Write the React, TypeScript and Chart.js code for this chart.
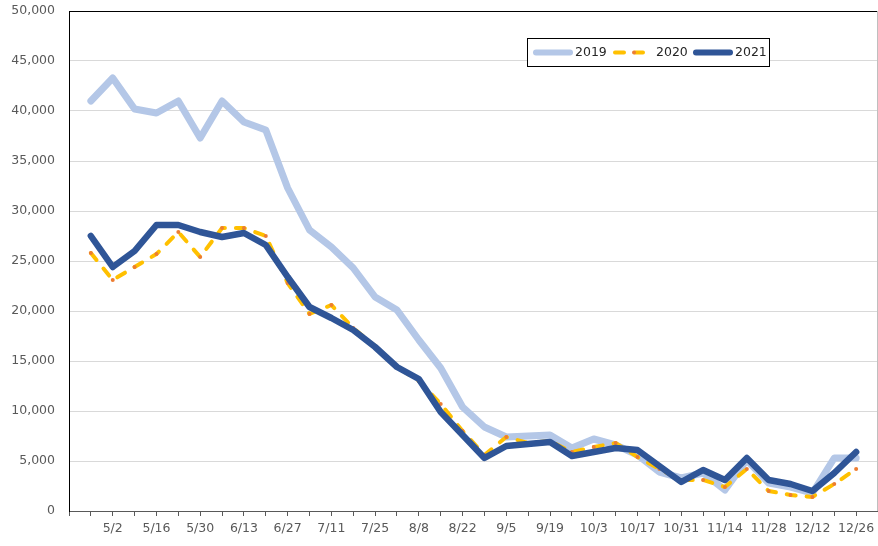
import React, { useEffect, useRef } from "react";
import { Chart, registerables } from "chart.js";

Chart.register(...registerables);

const weeks: string[] = [
  "4/25", "5/2", "5/9", "5/16", "5/23", "5/30", "6/6", "6/13", "6/20", "6/27",
  "7/4", "7/11", "7/18", "7/25", "8/1", "8/8", "8/15", "8/22", "8/29", "9/5",
  "9/12", "9/19", "9/26", "10/3", "10/10", "10/17", "10/24", "10/31", "11/7", "11/14",
  "11/21", "11/28", "12/5", "12/12", "12/19", "12/26",
];

const series2019: number[] = [
  41000, 43300, 40200, 39800, 41000, 37300, 41000, 38900, 38100, 32300,
  28100, 26400, 24300, 21400, 20100, 17100, 14300, 10400, 8400, 7400,
  7500, 7600, 6300, 7200, 6600, 5600, 3900, 3300, 3800, 2100,
  5100, 2800, 2400, 1800, 5300, 5300,
];

const series2020: number[] = [
  25800, 23100, 24400, 25700, 27900, 25400, 28300, 28300, 27500, 22800,
  19700, 20600, 18300, 16500, 14400, 13000, 10700, 8000, 5600, 7400,
  6800, 7000, 5900, 6400, 6800, 5400, 4200, 3100, 3100, 2400,
  4200, 2000, 1600, 1400, 2700, 4200,
];

const series2021: number[] = [
  27500, 24400, 26000, 28600, 28600, 27900, 27400, 27800, 26600, 23400,
  20400, 19300, 18100, 16400, 14400, 13200, 9900, 7600, 5300, 6500,
  6700, 6900, 5500, 5900, 6300, 6100, 4500, 2900, 4100, 3100,
  5300, 3100, 2700, 2000, 3800, 5900,
];

const seriesNames: string[] = ["2019", "2020", "2021"];
const yTicks: number[] = [0, 5000, 10000, 15000, 20000, 25000, 30000, 35000, 40000, 45000, 50000];

const FONT = "'DejaVu Sans', sans-serif";
const C2019 = "#b4c7e7";
const C2020 = "#ffc000";
const C2020dot = "#ed7d31";
const C2021 = "#2f5597";

const pad = (arr: number[]) => [null, ...arr, null];

const framePlugin = {
  id: "frameAndLegend",
  afterDraw(chart: any) {
    const { ctx, chartArea } = chart;
    ctx.save();
    // right border
    ctx.strokeStyle = "#bfbfbf";
    ctx.lineWidth = 1;
    ctx.beginPath();
    ctx.moveTo(chartArea.right - 0.5, chartArea.top);
    ctx.lineTo(chartArea.right - 0.5, chartArea.bottom);
    ctx.stroke();

    // legend box
    const bx = 527, by = 38, bw = 242, bh = 28;
    ctx.fillStyle = "#ffffff";
    ctx.fillRect(bx, by, bw, bh);
    ctx.strokeStyle = "#000000";
    ctx.lineWidth = 1;
    ctx.strokeRect(bx + 0.5, by + 0.5, bw, bh);
    const cy = by + bh / 2 + 0.5;
    ctx.lineCap = "round";
    // 2019
    ctx.strokeStyle = C2019;
    ctx.lineWidth = 6;
    ctx.beginPath();
    ctx.moveTo(536, cy);
    ctx.lineTo(570, cy);
    ctx.stroke();
    // 2020
    ctx.strokeStyle = C2020;
    ctx.lineWidth = 4;
    ctx.setLineDash([9, 11]);
    ctx.beginPath();
    ctx.moveTo(615, cy);
    ctx.lineTo(643, cy);
    ctx.stroke();
    ctx.setLineDash([]);
    ctx.fillStyle = C2020dot;
    ctx.beginPath();
    ctx.arc(634, cy, 2, 0, Math.PI * 2);
    ctx.fill();
    // 2021
    ctx.strokeStyle = C2021;
    ctx.lineWidth = 6;
    ctx.beginPath();
    ctx.moveTo(696, cy);
    ctx.lineTo(730, cy);
    ctx.stroke();

    ctx.fillStyle = "#262626";
    ctx.font = `12.5px ${FONT}`;
    ctx.textBaseline = "middle";
    ctx.textAlign = "left";
    ctx.fillText(seriesNames[0], 575, cy);
    ctx.fillText(seriesNames[1], 656, cy);
    ctx.fillText(seriesNames[2], 735, cy);
    ctx.restore();
  },
};

export default function App() {
  const ref = useRef<HTMLCanvasElement | null>(null);

  useEffect(() => {
    if (!ref.current) return;
    const labels = ["", ...weeks, ""];
    const chart = new Chart(ref.current, {
      type: "line",
      data: {
        labels,
        datasets: [
          {
            label: seriesNames[0],
            data: pad(series2019) as any,
            borderColor: C2019,
            backgroundColor: C2019,
            borderWidth: 7,
            pointRadius: 0,
            borderJoinStyle: "round",
            borderCapStyle: "round",
            order: 3,
          },
          {
            label: seriesNames[1],
            data: pad(series2020) as any,
            borderColor: C2020,
            backgroundColor: C2020dot,
            borderWidth: 4,
            borderDash: [9, 11],
            borderCapStyle: "round",
            borderJoinStyle: "round",
            pointRadius: 2,
            pointBorderWidth: 0,
            pointBackgroundColor: C2020dot,
            order: 2,
          },
          {
            label: seriesNames[2],
            data: pad(series2021) as any,
            borderColor: C2021,
            backgroundColor: C2021,
            borderWidth: 6.5,
            pointRadius: 0,
            borderJoinStyle: "round",
            borderCapStyle: "round",
            order: 1,
          },
        ],
      },
      options: {
        responsive: false,
        animation: false,
        devicePixelRatio: 1,
        layout: { padding: { top: 11, right: 0, left: 0, bottom: 0 } },
        plugins: {
          legend: { display: false },
          tooltip: { enabled: false },
        },
        scales: {
          x: {
            type: "category",
            offset: false,
            border: { display: true, color: "#595959", width: 1 },
            grid: {
              display: true,
              drawOnChartArea: false,
              drawTicks: true,
              tickLength: 5,
              color: "#595959",
            },
            ticks: {
              autoSkip: false,
              maxRotation: 0,
              minRotation: 0,
              padding: 5,
              color: "#595959",
              font: { family: FONT, size: 12.5 },
              callback: (_v: any, i: number) => {
                const w = i - 1;
                if (w >= 0 && w < weeks.length && w % 2 === 1) return weeks[w];
                return "";
              },
            },
            afterFit: (s: any) => {
              s.height = 35;
              s.paddingLeft = 0;
              s.paddingRight = 0;
            },
          },
          y: {
            min: 0,
            max: 50000,
            border: { display: true, color: "#000000", width: 1 },
            grid: {
              drawTicks: false,
              color: (c: any) => (c.tick && c.tick.value === 50000 ? "#000000" : "#d9d9d9"),
              lineWidth: 1,
            },
            afterBuildTicks: (s: any) => {
              s.ticks = yTicks.map((v) => ({ value: v }));
            },
            ticks: {
              padding: 14,
              color: "#595959",
              font: { family: FONT, size: 12.5 },
              callback: (v: any) => Number(v).toLocaleString("en-US"),
            },
            afterFit: (s: any) => {
              s.width = 69;
              s.paddingTop = 0;
              s.paddingBottom = 0;
            },
          },
        },
      },
      plugins: [framePlugin],
    });
    return () => chart.destroy();
  }, []);

  return (
    <div style={{ position: "absolute", left: 0, top: 0, width: 878, height: 546, overflow: "hidden", background: "#fff" }}>
      <canvas ref={ref} width={882} height={546} style={{ display: "block" }} />
    </div>
  );
}
